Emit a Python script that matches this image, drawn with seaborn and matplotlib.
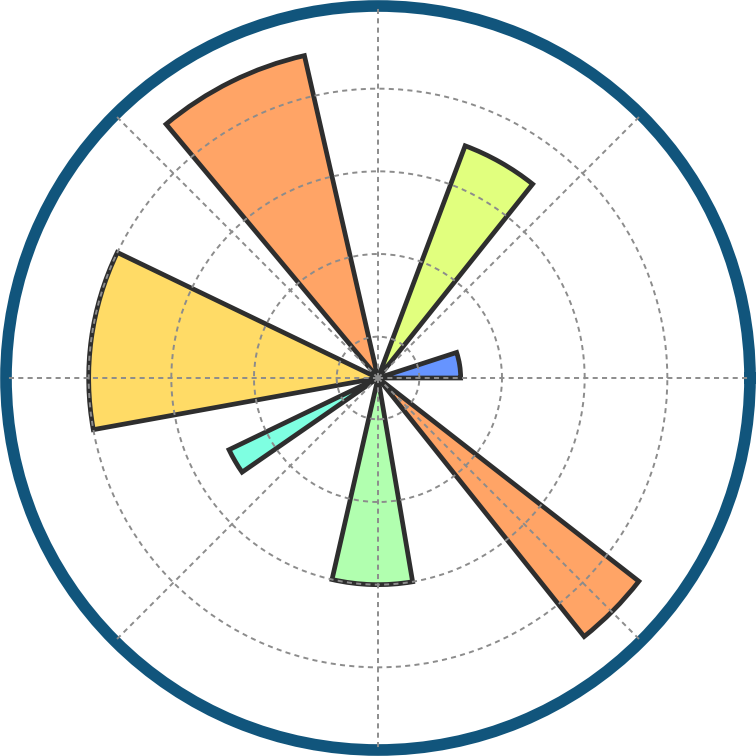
import numpy as np
import matplotlib
matplotlib.use("Agg")
import matplotlib.pyplot as plt
import seaborn as sns

# bar data (angles in units of full circle / 7)
radii = [2, 6, 8, 7, 4, 5, 8]
widths = [0.4, 0.4, 0.6, 0.8, 0.2, 0.5, 0.3]   # fraction of pi/4
rgrid = [1, 3, 5, 7]

sns.set_style("white")

N = len(radii)
theta = np.arange(N) * 2 * np.pi / N
width = np.pi / 4 * np.array(widths)
jet = matplotlib.colormaps["jet"]

fig = plt.figure(figsize=(7.56, 7.56), dpi=100)
ax = fig.add_axes([6 / 756, 6 / 756, 744 / 756, 744 / 756], projection="polar")
ax.set_axisbelow(False)

bars = ax.bar(theta, radii, width=width, bottom=0.0, align="edge",
              edgecolor="0.18", lw=3.4)
for r, bar in zip(radii, bars):
    bar.set_facecolor((*jet(r / 10.0)[:3], 0.6))

ax.tick_params(labelbottom=False, labeltop=False, labelleft=False, labelright=False)
ax.grid(True, lw=1.4, color="0.55", ls=(0, (2.6, 2.2)))
ax.set_rmax(9)
ax.set_yticks(rgrid)
ax.spines["polar"].set_color("#11557c")
ax.spines["polar"].set_linewidth(8.4)

fig.savefig("out.png", dpi=100)
